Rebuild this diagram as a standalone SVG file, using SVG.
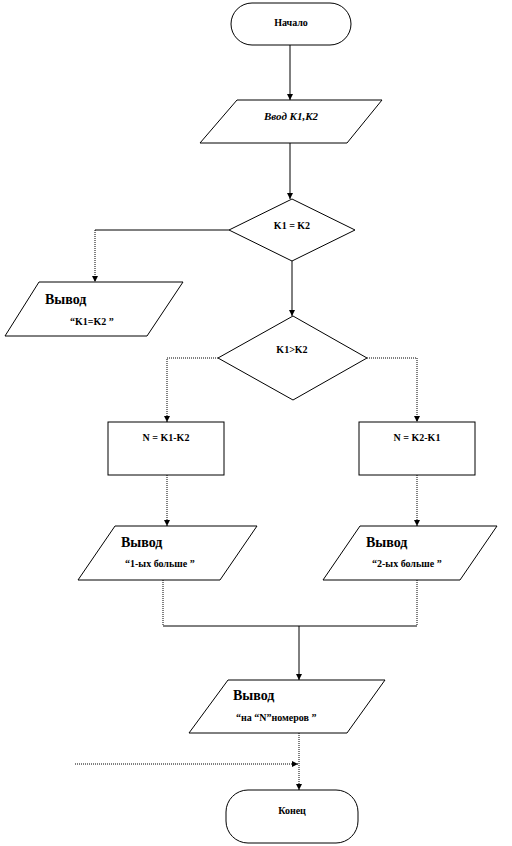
<svg xmlns="http://www.w3.org/2000/svg" width="512" height="846" viewBox="0 0 512 846">
<style>
.s{fill:#fff;stroke:#000;stroke-width:1}
.c{fill:none;stroke:#000;stroke-width:1}
.d{fill:none;stroke:#000;stroke-width:1;stroke-dasharray:1 1}
.t{font-family:"Liberation Serif","Times New Roman",serif;font-weight:bold;font-size:10px;fill:#000}
.b{font-family:"Liberation Serif","Times New Roman",serif;font-weight:bold;font-size:14px;fill:#000}
.i{font-family:"Liberation Serif","Times New Roman",serif;font-weight:bold;font-style:italic;font-size:11px;fill:#000}
</style>
<defs>
<marker id="a" viewBox="0 0 6 6" refX="6" refY="3" markerWidth="6" markerHeight="6" orient="auto" markerUnits="userSpaceOnUse">
<path d="M0,0 L6,3 L0,6 Z" fill="#000"/>
</marker>
</defs>
<g id="connectors">
<path class="c" d="M290,45 V100" marker-end="url(#a)"/>
<path class="c" d="M290,143 V199" marker-end="url(#a)"/>
<path class="c" d="M229,230 H95"/>
<path class="d" d="M95,230 V282" marker-end="url(#a)"/>
<path class="c" d="M292,261 V316" marker-end="url(#a)"/>
<path class="d" d="M218,358 H167 V422" marker-end="url(#a)"/>
<path class="d" d="M367,358 H417 V422" marker-end="url(#a)"/>
<path class="d" d="M167,475 V526" marker-end="url(#a)"/>
<path class="d" d="M417,475 V526" marker-end="url(#a)"/>
<path class="d" d="M163,580 V626"/>
<path class="d" d="M417,580 V626"/>
<path class="c" d="M163,626 H417"/>
<path class="c" d="M299,626 V680" marker-end="url(#a)"/>
<path class="d" d="M299,733 V790" marker-end="url(#a)"/>
<path class="d" d="M75,764 H298" marker-end="url(#a)"/>
</g>
<g id="start">
<rect class="s" x="231" y="3" width="120" height="42" rx="21" ry="21"/>
<text class="t" x="291" y="26" text-anchor="middle">Начало</text>
</g>
<g id="input">
<polygon class="s" points="237,100 382,100 347,143 200,143"/>
<text class="i" x="291" y="120" text-anchor="middle">Ввод K1,K2</text>
</g>
<g id="cond1">
<polygon class="s" points="292,199 355,230 292,261 229,230"/>
<text class="t" x="292" y="229" text-anchor="middle">K1 = K2</text>
</g>
<g id="out-eq">
<polygon class="s" points="39,282 183,282 147,336 5,336"/>
<text class="b" x="45" y="304">Вывод</text>
<text class="t" x="70" y="325">“K1=K2 ”</text>
</g>
<g id="cond2">
<polygon class="s" points="293,316 367,358 293,400 218,358"/>
<text class="t" x="292" y="353" text-anchor="middle">K1&gt;K2</text>
</g>
<g id="calc1">
<rect class="s" x="108" y="422" width="116" height="53"/>
<text class="t" x="166" y="441" text-anchor="middle">N = K1-K2</text>
</g>
<g id="calc2">
<rect class="s" x="359" y="422" width="116" height="53"/>
<text class="t" x="417" y="441" text-anchor="middle">N = K2-K1</text>
</g>
<g id="out1">
<polygon class="s" points="115,526 257,526 220,580 78,580"/>
<text class="b" x="121" y="547">Вывод</text>
<text class="t" x="125" y="567">“1-ых  больше ”</text>
</g>
<g id="out2">
<polygon class="s" points="360,526 497,526 460,580 323,580"/>
<text class="b" x="366" y="547">Вывод</text>
<text class="t" x="372" y="567">“2-ых  больше ”</text>
</g>
<g id="out3">
<polygon class="s" points="228,680 385,680 347,733 189,733"/>
<text class="b" x="233" y="700">Вывод</text>
<text class="t" x="236" y="721">“на “N”номеров ”</text>
</g>
<g id="end">
<rect class="s" x="226" y="790" width="132" height="53" rx="22" ry="22"/>
<text class="t" x="292" y="814" text-anchor="middle">Конец</text>
</g>
</svg>
